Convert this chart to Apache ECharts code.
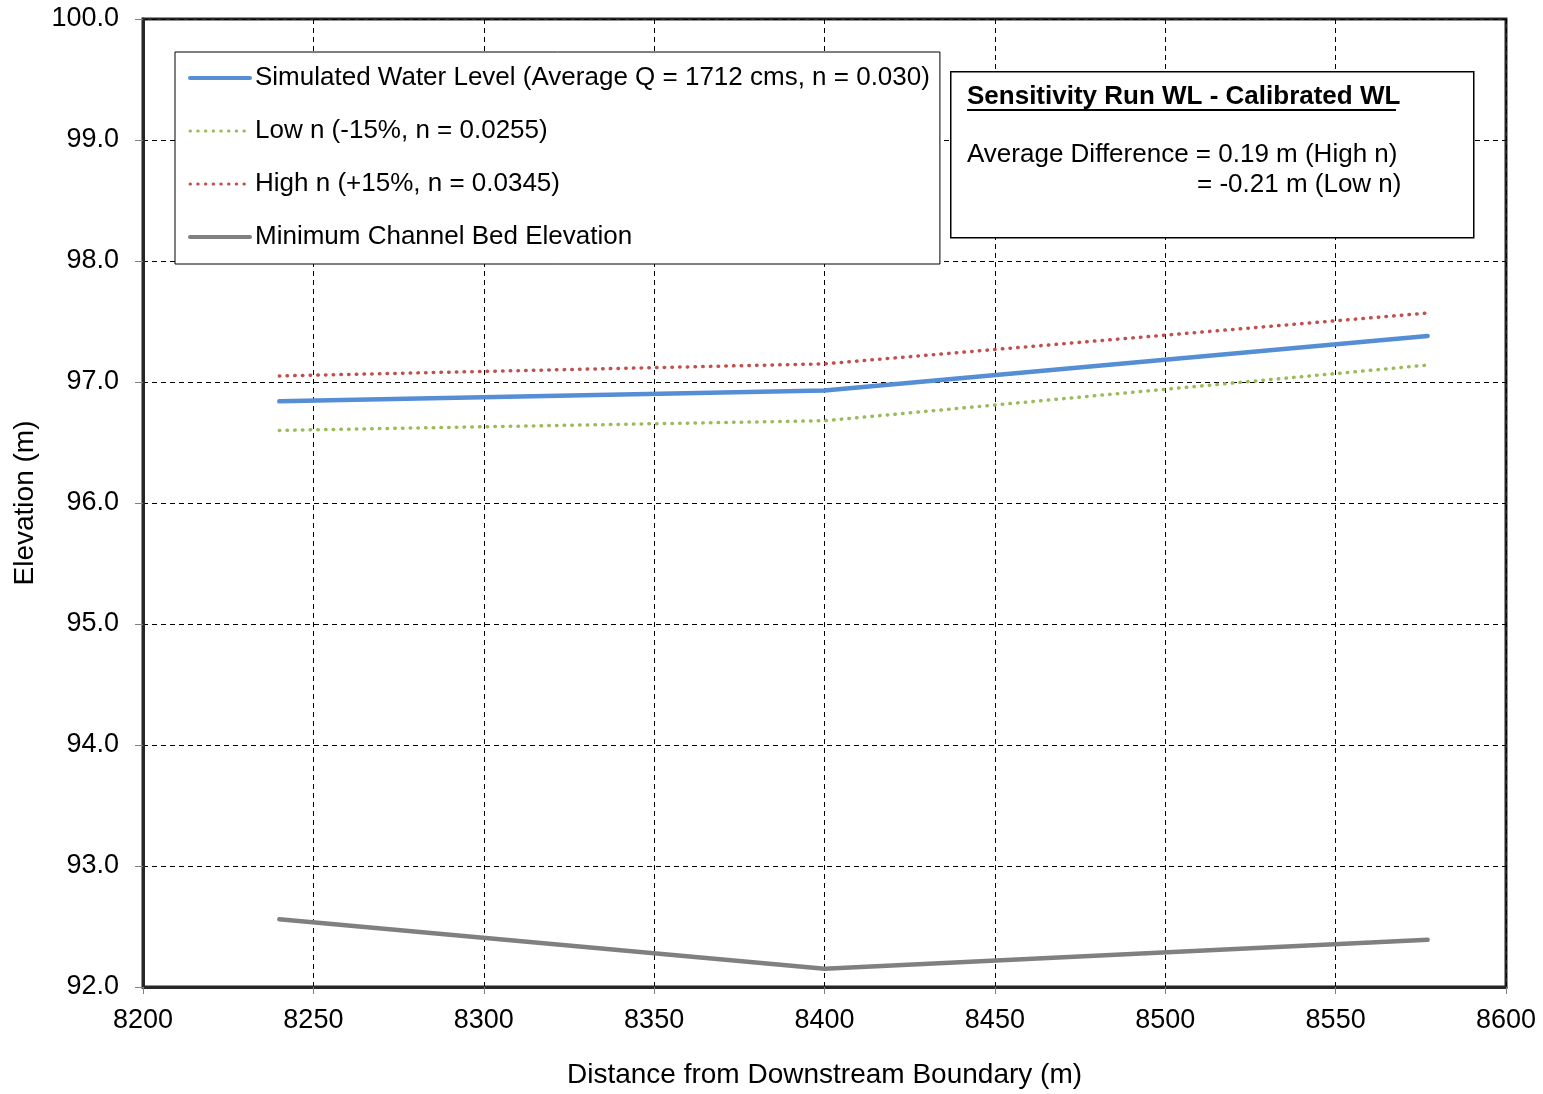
<!DOCTYPE html>
<html>
<head>
<meta charset="utf-8">
<script src="https://cdn.jsdelivr.net/npm/echarts@6/dist/echarts.min.js"></script>
<style>
html,body{margin:0;padding:0;background:#fff;}
#chart{width:1543px;height:1094px;}
</style>
</head>
<body>
<div id="chart"></div>
<script>
// Data
const distances = [8240, 8400, 8577];
const simulatedWL = [96.84, 96.93, 97.38];
const lowN = [96.60, 96.68, 97.14];
const highN = [97.05, 97.15, 97.57];
const bedElevation = [92.56, 92.15, 92.39];

const seriesNames = [
  'Simulated Water Level (Average Q = 1712 cms, n = 0.030)',
  'Low n (-15%, n = 0.0255)',
  'High n (+15%, n = 0.0345)',
  'Minimum Channel Bed Elevation'
];
const annotationTitle = 'Sensitivity Run WL - Calibrated WL';
const annotationLine1 = 'Average Difference = 0.19 m (High n)';
const annotationLine2 = '= -0.21 m (Low n)';

const pairs = (ys) => distances.map((x, i) => [x, ys[i]]);
const FONT = 'Liberation Sans, Arial, sans-serif';

const chart = echarts.init(document.getElementById('chart'), null, {renderer: 'canvas'});
const option = {
  animation: false,
  backgroundColor: '#fff',
  textStyle: {fontFamily: FONT, color: '#000'},
  grid: {left: 143, right: 37, top: 19, bottom: 104, show: true, borderColor: '#262626', borderWidth: 3, backgroundColor: 'transparent'},
  legend: {
    orient: 'vertical', left: 175, top: 52,
    padding: [13, 10, 14, 13],
    itemWidth: 60, itemHeight: 14, itemGap: 27,
    backgroundColor: '#fff', borderColor: '#000', borderWidth: 1,
    itemStyle: {opacity: 0, borderWidth: 0},
    lineStyle: {width: 4},
    textStyle: {fontFamily: FONT, fontSize: 26, color: '#000', lineHeight: 26, padding: [0, 0, 0, 0]},
    data: [
      {name: seriesNames[0], lineStyle: {width: 4}},
      {name: seriesNames[1], lineStyle: {width: 3}},
      {name: seriesNames[2], lineStyle: {width: 3}},
      {name: seriesNames[3], lineStyle: {width: 4}}
    ]
  },
  xAxis: {
    type: 'value', min: 8200, max: 8600, interval: 50,
    name: 'Distance from Downstream Boundary (m)', nameLocation: 'middle', nameGap: 74,
    nameTextStyle: {fontSize: 28, color: '#000', fontFamily: FONT},
    axisLine: {show: true, onZero: false, lineStyle: {color: '#262626', width: 3}},
    axisTick: {show: true, length: 7, lineStyle: {color: '#808080', width: 1}},
    axisLabel: {fontSize: 27, color: '#000', margin: 20, fontFamily: FONT, formatter: (v) => String(v)},
    splitLine: {show: true, lineStyle: {color: '#000', width: 1, type: [5, 4]}}
  },
  yAxis: {
    type: 'value', min: 92, max: 100, interval: 1,
    name: 'Elevation (m)', nameLocation: 'middle', nameGap: 104, nameRotate: 90,
    nameTextStyle: {fontSize: 28, color: '#000', fontFamily: FONT},
    axisLine: {show: true, onZero: false, lineStyle: {color: '#262626', width: 3}},
    axisTick: {show: true, length: 8, lineStyle: {color: '#808080', width: 1}},
    axisLabel: {fontSize: 27, color: '#000', margin: 24, fontFamily: FONT, formatter: (v) => v.toFixed(1)},
    splitLine: {show: true, lineStyle: {color: '#000', width: 1, type: [5, 4]}}
  },
  series: [
    {name: seriesNames[0], type: 'line', data: pairs(simulatedWL), symbol: 'none', z: 4,
     lineStyle: {color: '#558ED5', width: 4.5, cap: 'round'}, itemStyle: {color: '#558ED5'}},
    {name: seriesNames[1], type: 'line', data: pairs(lowN), symbol: 'none', z: 3,
     lineStyle: {color: '#9BBB59', width: 3.5, type: [0.5, 7.2], cap: 'round'}, itemStyle: {color: '#9BBB59'}},
    {name: seriesNames[2], type: 'line', data: pairs(highN), symbol: 'none', z: 3,
     lineStyle: {color: '#C0504D', width: 3.5, type: [0.5, 7.2], cap: 'round'}, itemStyle: {color: '#C0504D'}},
    {name: seriesNames[3], type: 'line', data: pairs(bedElevation), symbol: 'none', z: 3,
     lineStyle: {color: '#808080', width: 4.5, cap: 'round'}, itemStyle: {color: '#808080'}}
  ],
  graphic: [
    {type: 'rect', left: 950, top: 71, z: 10,
     shape: {width: 523, height: 166}, style: {fill: '#fff', stroke: '#000', lineWidth: 1.5}},
    {type: 'text', left: 967, top: 84, z: 11,
     style: {text: annotationTitle, font: 'bold 26px ' + FONT, fill: '#000'}},
    {type: 'rect', left: 967, top: 109, z: 11,
     shape: {width: 429, height: 2}, style: {fill: '#000'}},
    {type: 'text', left: 967, top: 142, z: 11,
     style: {text: annotationLine1, font: '26px ' + FONT, fill: '#000'}},
    {type: 'text', left: 1197, top: 172, z: 11,
     style: {text: annotationLine2, font: '26px ' + FONT, fill: '#000'}}
  ]
};
chart.setOption(option);
</script>
</body>
</html>
